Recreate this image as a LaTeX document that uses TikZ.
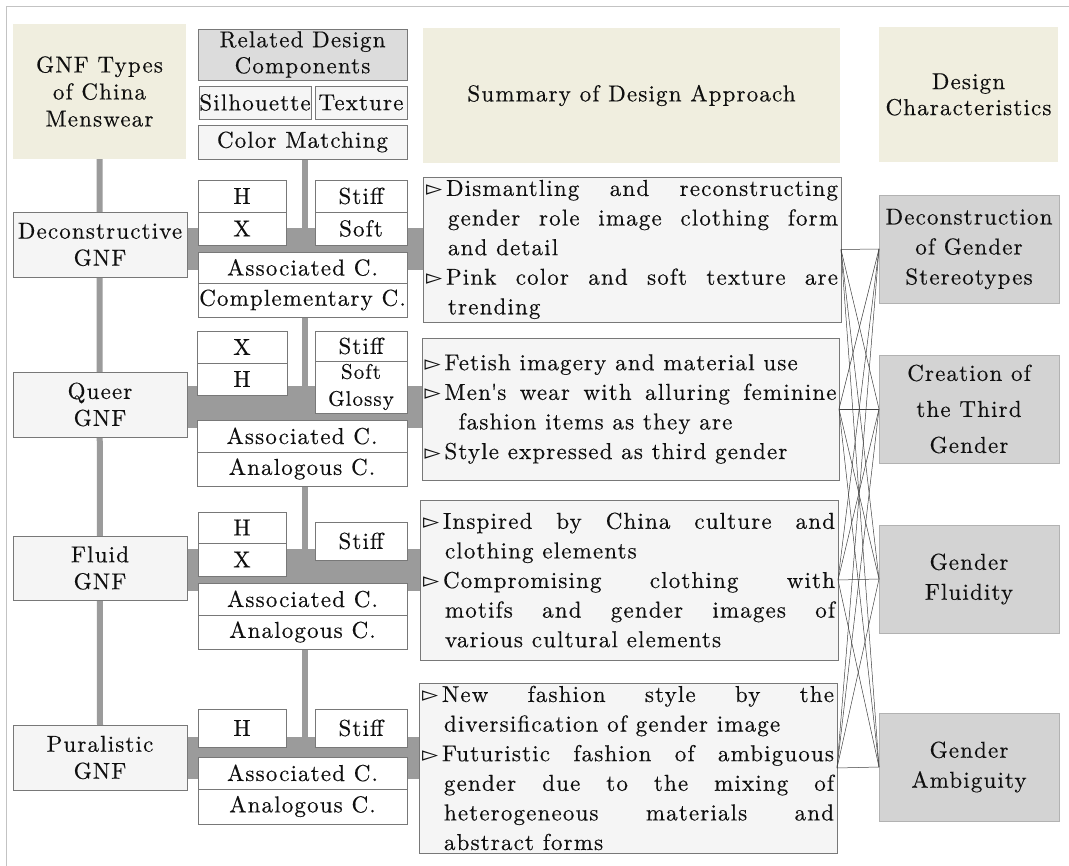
\documentclass[tikz,border=0pt]{standalone}
\usepackage{fontspec}
\usetikzlibrary{backgrounds}
\setmainfont{lmroman10-regular}[Extension=.otf, LetterSpace=5, FakeBold=0.35]
\newfontfamily\symf{DejaVu Sans}
\definecolor{beigec}{RGB}{240,238,223}
\definecolor{lightc}{RGB}{245,245,245}
\definecolor{hdgray}{RGB}{220,220,220}
\definecolor{charc}{RGB}{211,211,211}
\definecolor{charline}{RGB}{178,178,178}
\definecolor{boxline}{RGB}{120,120,120}
\definecolor{barc}{RGB}{155,155,155}
\definecolor{framec}{RGB}{195,195,195}
\definecolor{textc}{RGB}{15,15,15}
\newcommand\bul{\makebox[20pt][l]{\symf\fontsize{21}{21}\selectfont ▻}}
\newcommand\ind{\hspace*{22pt}}
\newcommand\jline[1]{\hbox to \linewidth{#1}}
\newcommand\nline[1]{\hbox to \linewidth{#1\hfil}}
\newcommand\sumtext[1]{\parbox{412pt}{\fontsize{23}{29.6}\selectfont\lineskiplimit=-100pt #1}}
\tikzset{
  base/.style={inner sep=0pt, outer sep=0pt, anchor=north west, align=center, text=textc,
    font=\fontsize{23}{27}\selectfont},
  beigebox/.style={base, fill=beigec},
  lightbox/.style={base, draw=boxline, fill=lightc, line width=0.8pt},
  compbox/.style={base, draw=boxline, fill=white, line width=0.8pt},
  hdbox/.style={base, draw=boxline, fill=hdgray, line width=0.8pt},
  charbox/.style={base, draw=charline, fill=charc, line width=0.8pt},
  vbar/.style={draw=barc, line width=6pt},
  hbar/.style={draw=barc, line width=42pt},
  link/.style={draw=black!75, line width=0.5pt},
}
\begin{document}
\begin{tikzpicture}[x=1pt,y=-1pt]
\useasboundingbox (0,0) rectangle (1069,866);
\draw[framec, line width=1pt] (6,866) -- (6,7) -- (1069,7);

% header nodes
\node[beigebox, minimum width=173, minimum height=135] (hdA) at (13,24) {GNF Types\\of China\\Menswear};
\node[hdbox, minimum width=209, minimum height=51, font=\fontsize{23}{26}\selectfont] (hdB) at (198,29) {Related Design\\Components};
\node[lightbox, minimum width=112, minimum height=33] (sil) at (199,86) {Silhouette};
\node[lightbox, minimum width=92, minimum height=33] (tex) at (315,86) {Texture};
\node[lightbox, minimum width=209, minimum height=34] (cm) at (198,125) {Color Matching};
\node[beigebox, minimum width=417, minimum height=135] (hdC) at (423,28) {Summary of Design Approach};
\node[beigebox, minimum width=179, minimum height=135, font=\fontsize{23}{26}\selectfont] (hdD) at (879,27) {Design\\Characteristics};

% GNF type nodes
\node[lightbox, minimum width=174, minimum height=65] (g1) at (13,212) {Deconstructive\\GNF};
\node[lightbox, minimum width=174, minimum height=65] (g2) at (13,372) {Queer\\GNF};
\node[lightbox, minimum width=174, minimum height=64] (g3) at (13,536) {Fluid\\GNF};
\node[lightbox, minimum width=174, minimum height=65] (g4) at (13,725) {Puralistic\\GNF};

% summary boxes
\node[lightbox, minimum width=418, minimum height=145] (s1) at (423,177) {\sumtext{%
\jline{\bul Dismantling and reconstructing}
\jline{\ind gender role image clothing form}
\nline{\ind and detail}
\jline{\bul Pink color and soft texture are}
\nline{\ind trending}}};
\node[lightbox, minimum width=417, minimum height=142] (s2) at (422,338) {\sumtext{%
\nline{\bul Fetish imagery and material use}
\jline{\bul Men\textquotesingle s wear with alluring feminine}
\nline{\hspace*{34pt}fashion items as they are}
\nline{\bul Style expressed as third gender}}};
\node[lightbox, minimum width=418, minimum height=160] (s3) at (420,500) {\sumtext{%
\jline{\bul Inspired by China culture and}
\nline{\ind clothing elements}
\jline{\bul Compromising clothing with}
\jline{\ind motifs and gender images of}
\nline{\ind various cultural elements}}};
\node[lightbox, minimum width=418, minimum height=170] (s4) at (419,683) {\sumtext{%
\jline{\bul New fashion style by the}
\nline{\ind diversification of gender image}
\jline{\bul Futuristic fashion of ambiguous}
\jline{\ind gender due to the mixing of}
\jline{\ind heterogeneous materials and}
\nline{\ind abstract forms}}};

% characteristic boxes
\node[charbox, minimum width=180, minimum height=108, font=\fontsize{23}{30}\selectfont] (c1) at (879,195) {Deconstruction\\of Gender\\Stereotypes};
\node[charbox, minimum width=180, minimum height=108, font=\fontsize{23}{36}\selectfont] (c2) at (879,355) {Creation of\\the Third\\Gender};
\node[charbox, minimum width=180, minimum height=108, font=\fontsize{23}{30}\selectfont] (c3) at (879,525) {Gender\\Fluidity};
\node[charbox, minimum width=180, minimum height=108, font=\fontsize{23}{30}\selectfont] (c4) at (879,713) {Gender\\Ambiguity};

% gray connector bars (behind)
\coordinate (mx) at (305,0);
\coordinate (b1) at (0,249);
\coordinate (b2) at (0,407.5);
\coordinate (b3) at (0,569.5);
\coordinate (b4) at (0,758);
\coordinate (mend) at (0,757);
\begin{scope}[on background layer]
\fill[white] (0,0) rectangle (1069,866);
\draw[vbar] (hdA.south) -- (g4.north);
\draw[vbar] (cm.south -| mx) -- (mend -| mx);
\draw[hbar] (g1.east |- b1) -- (s1.west |- b1);
\draw[hbar] (g2.east |- b2) -- (s2.west |- b2);
\draw[hbar] (g3.east |- b3) -- (s3.west |- b3);
\draw[hbar] (g4.east |- b4) -- (s4.west |- b4);
\end{scope}

% component boxes
\node[compbox, minimum width=88, minimum height=32] (h1) at (198,180) {H};
\node[compbox, minimum width=88, minimum height=33] (x1) at (198,212) {X};
\node[compbox, minimum width=92, minimum height=32] (st1) at (315,180) {Stiff};
\node[compbox, minimum width=92, minimum height=33] (so1) at (315,212) {Soft};
\node[compbox, minimum width=209, minimum height=31] (as1) at (198,252) {Associated C.};
\node[compbox, minimum width=209, minimum height=34] (co1) at (198,283) {Complementary C.};

\node[compbox, minimum width=90, minimum height=32] (x2) at (197,331) {X};
\node[compbox, minimum width=90, minimum height=32] (h2) at (197,363) {H};
\node[compbox, minimum width=92, minimum height=30] (st2) at (315,331) {Stiff};
\node[compbox, minimum width=92, minimum height=52, font=\fontsize{21}{27}\selectfont] (sg2) at (315,361) {Soft\\Glossy};
\node[compbox, minimum width=210, minimum height=32] (as2) at (197,420) {Associated C.};
\node[compbox, minimum width=210, minimum height=34] (an2) at (197,452) {Analogous C.};

\node[compbox, minimum width=88, minimum height=31] (h3) at (198,512) {H};
\node[compbox, minimum width=88, minimum height=33] (x3) at (198,543) {X};
\node[compbox, minimum width=92, minimum height=38] (st3) at (315,522) {Stiff};
\node[compbox, minimum width=209, minimum height=32] (as3) at (198,583) {Associated C.};
\node[compbox, minimum width=209, minimum height=34] (an3) at (198,615) {Analogous C.};

\node[compbox, minimum width=88, minimum height=38] (h4) at (198,709) {H};
\node[compbox, minimum width=92, minimum height=38] (st4) at (315,709) {Stiff};
\node[compbox, minimum width=209, minimum height=32] (as4) at (198,757) {Associated C.};
\node[compbox, minimum width=209, minimum height=35] (an4) at (198,789) {Analogous C.};

% links summary -> characteristics
\foreach \i in {1,2,3,4}{
  \foreach \j in {1,2,3,4}{
    \draw[link] (s\i.east) -- (c\j.west);
  }
}
\end{tikzpicture}
\end{document}
